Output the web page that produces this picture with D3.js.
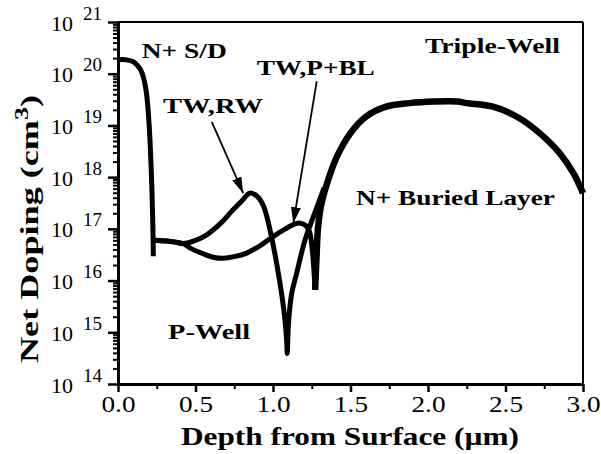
<!DOCTYPE html>
<html>
<head>
<meta charset="UTF-8">
<script src="https://d3js.org/d3.v7.min.js"></script>
<style>
  body { margin: 0; background: #fff; }
  svg text { font-family: "Liberation Serif", Tinos, "Times New Roman", "DejaVu Serif Condensed", "DejaVu Serif", serif; font-stretch: condensed; fill: #000; }
  .lbl { font-weight: bold; font-size: 21px; }
</style>
</head>
<body>
<svg width="601" height="454"></svg>
<script>
// N+ source/drain profile
const sdDepth = [0, 0.05, 0.10, 0.15, 0.18, 0.20, 0.215, 0.225, 0.228];
const sdDoping = [1.86e20, 1.86e20, 1.7e20, 1.12e20, 5.0e19, 1.12e19, 1.26e18, 1.12e17, 2.95e16];

// triple well, retrograde well
const rwDepth = [0.239, 0.36, 0.42, 0.50, 0.57, 0.66, 0.74, 0.80, 0.85, 0.90, 0.94, 0.99, 1.045, 1.075, 1.088, 1.092, 1.10, 1.12, 1.153, 1.206, 1.26, 1.30, 1.33];
const rwDoping = [6.0e16, 5.6e16, 5.2e16, 6.0e16, 7.6e16, 1.26e17, 2.3e17, 3.5e17, 4.9e17, 4.2e17, 2.7e17, 7.1e16, 8.9e15, 2.0e15, 7.0e14, 3.9e14, 1.5e15, 5.5e15, 1.4e16, 6.0e16, 1.7e17, 3.6e17, 6.3e17];

// triple well, P+ buried layer
const pblDepth = [0.239, 0.36, 0.42, 0.47, 0.55, 0.62, 0.68, 0.75, 0.83, 0.92, 1.00, 1.08, 1.14, 1.175, 1.21, 1.235, 1.255, 1.265, 1.272];
const pblDoping = [6.0e16, 5.6e16, 5.2e16, 4.2e16, 3.3e16, 2.8e16, 2.7e16, 2.9e16, 3.4e16, 4.8e16, 7.1e16, 1.0e17, 1.23e17, 1.29e17, 1.17e17, 8.9e16, 3.5e16, 1.4e16, 6.6e15];

// N+ buried layer
const nblDepth = [1.272, 1.28, 1.29, 1.31, 1.346, 1.41, 1.50, 1.60, 1.73, 1.88, 2.04, 2.19, 2.25, 2.42, 2.59, 2.72, 2.85, 2.94, 3.0];
const nblDoping = [6.6e15, 2.5e16, 1.0e17, 2.8e17, 7.1e17, 2.4e18, 7.1e18, 1.48e19, 2.3e19, 2.7e19, 2.9e19, 2.9e19, 2.7e19, 2.3e19, 1.38e19, 7.1e18, 2.9e18, 1.17e18, 4.9e17];

const xTicks = [0, 0.5, 1.0, 1.5, 2.0, 2.5, 3.0];
const xMinor = [0.25, 0.75, 1.25, 1.75, 2.25, 2.75];
const yExponents = [14, 15, 16, 17, 18, 19, 20, 21];

// annotations: text, depth, doping at baseline, textLength
const labels = [
  ["N+ S/D", 0.153, 2.0e20, 85],
  ["TW,P+BL", 0.895, 9.4e19, 118],
  ["TW,RW", 0.29, 1.74e19, 100],
  ["Triple-Well", 1.98, 2.5e20, 135],
  ["N+ Buried Layer", 1.535, 2.9e17, 199],
  ["P-Well", 0.323, 7.4e14, 82]
];
// arrows: from (depth, doping) to (depth, doping)
const arrows = [
  [0.605, 1.17e19, 0.808, 4.9e17],
  [1.282, 7.1e19, 1.131, 1.29e17]
];

const W = 601, H = 454;
const margin = {top: 22, right: 18, bottom: 70, left: 118};

const svg = d3.select("svg");

const x = d3.scaleLinear().domain([0, 3]).range([margin.left, W - margin.right]);
const y = d3.scaleLog().domain([1e14, 1e21]).range([H - margin.bottom, margin.top]);

// frame top / right
svg.append("line")
  .attr("x1", x(0)).attr("x2", x(3)).attr("y1", y(1e21)).attr("y2", y(1e21))
  .attr("stroke", "#000").attr("stroke-width", 2);
svg.append("line")
  .attr("x1", x(3)).attr("x2", x(3)).attr("y1", y(1e21)).attr("y2", y(1e14))
  .attr("stroke", "#000").attr("stroke-width", 2);

// y axis, major and minor ticks
const yMinor = [];
yExponents.slice(0, -1).forEach(function (e) {
  for (let m = 2; m <= 9; m++) yMinor.push(m * Math.pow(10, e));
});

svg.append("g")
  .attr("transform", "translate(" + margin.left + ",0)")
  .call(d3.axisLeft(y).tickValues(yMinor).tickSize(5).tickFormat(""))
  .call(g => g.selectAll("line").attr("stroke-width", 2))
  .call(g => g.select(".domain").remove());

const yAxis = svg.append("g")
  .attr("transform", "translate(" + margin.left + ",0)")
  .call(d3.axisLeft(y).tickValues(yExponents.map(e => Math.pow(10, e))).tickSize(10).tickSizeOuter(0).tickFormat(""));
yAxis.selectAll("line").attr("stroke-width", 2.5);
yAxis.select(".domain").attr("stroke-width", 3);
yAxis.attr("font-family", null).attr("font-size", null);

yAxis.selectAll(".tick").each(function (d) {
  const g = d3.select(this);
  g.append("text")
    .attr("x", -45).attr("y", 8)
    .attr("text-anchor", "end")
    .style("font-size", "22px")
    .text("10");
  g.append("text")
    .attr("x", -35).attr("y", -3)
    .attr("text-anchor", "start")
    .style("font-size", "19px")
    .text(Math.round(Math.log10(d)));
});

// x axis
svg.append("g")
  .attr("transform", "translate(0," + (H - margin.bottom) + ")")
  .call(d3.axisBottom(x).tickValues(xMinor).tickSize(5).tickFormat(""))
  .call(g => g.selectAll("line").attr("stroke-width", 2))
  .call(g => g.select(".domain").remove());

const xAxis = svg.append("g")
  .attr("transform", "translate(0," + (H - margin.bottom) + ")")
  .call(d3.axisBottom(x).tickValues(xTicks).tickSize(8).tickSizeOuter(0).tickFormat(d3.format(".1f")));
xAxis.selectAll("line").attr("stroke-width", 2.5);
xAxis.select(".domain").attr("stroke-width", 3);
xAxis.attr("font-family", null).attr("font-size", null);
xAxis.selectAll("text")
  .attr("y", 12)
  .attr("dy", "0.71em")
  .attr("textLength", 34)
  .attr("lengthAdjust", "spacingAndGlyphs")
  .style("font-size", "23px");

// axis titles
svg.append("text")
  .attr("x", 350).attr("y", 445)
  .attr("text-anchor", "middle")
  .attr("textLength", 338)
  .attr("lengthAdjust", "spacingAndGlyphs")
  .style("font-weight", "bold").style("font-size", "25px")
  .text("Depth from Surface (µm)");

const yt = svg.append("text")
  .attr("transform", "translate(38,229) rotate(-90)")
  .attr("text-anchor", "middle")
  .attr("textLength", 268)
  .attr("lengthAdjust", "spacingAndGlyphs")
  .style("font-weight", "bold").style("font-size", "25px");
yt.append("tspan").text("Net Doping (cm");
yt.append("tspan").attr("dy", -10).style("font-size", "18px").text("3");
yt.append("tspan").attr("dy", 10).text(")");

// curves
const line = d3.line()
  .x(d => x(d[0]))
  .y(d => y(d[1]))
  .curve(d3.curveCatmullRom.alpha(0.5));

function drawCurve(depth, doping, w) {
  svg.append("path")
    .datum(depth.map((v, i) => [v, doping[i]]))
    .attr("d", line)
    .attr("fill", "none")
    .attr("stroke", "#000")
    .attr("stroke-width", w)
    .attr("stroke-linejoin", "round")
    .attr("stroke-linecap", "butt");
}
drawCurve(sdDepth, sdDoping, 5);
drawCurve(rwDepth, rwDoping, 5);
drawCurve(pblDepth, pblDoping, 5);
drawCurve(nblDepth, nblDoping, 6.5);

// arrows
svg.append("defs").append("marker")
  .attr("id", "head")
  .attr("viewBox", "0 0 16 10")
  .attr("refX", 16).attr("refY", 5)
  .attr("markerWidth", 16).attr("markerHeight", 10)
  .attr("markerUnits", "userSpaceOnUse")
  .attr("orient", "auto")
  .append("path")
  .attr("d", "M0,0 L16,5 L0,10 Z")
  .attr("fill", "#000");

arrows.forEach(function (a) {
  svg.append("line")
    .attr("x1", x(a[0])).attr("y1", y(a[1]))
    .attr("x2", x(a[2])).attr("y2", y(a[3]))
    .attr("stroke", "#000")
    .attr("stroke-width", 1.8)
    .attr("marker-end", "url(#head)");
});

// labels
labels.forEach(function (l) {
  svg.append("text")
    .attr("class", "lbl")
    .attr("x", x(l[1])).attr("y", y(l[2]))
    .attr("textLength", l[3])
    .attr("lengthAdjust", "spacingAndGlyphs")
    .text(l[0]);
});
</script>
</body>
</html>
